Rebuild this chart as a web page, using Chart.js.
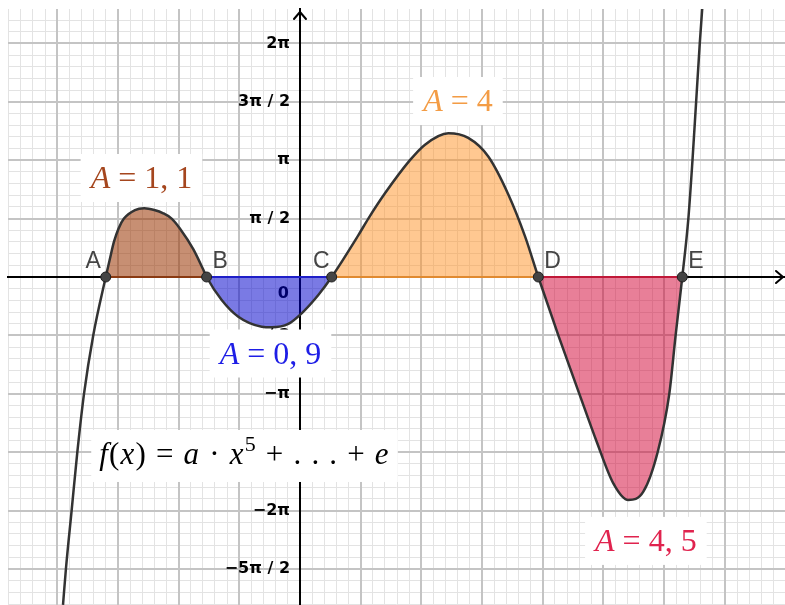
<!DOCTYPE html>
<html>
<head>
<meta charset="utf-8">
<script src="https://cdn.jsdelivr.net/npm/chart.js@4.4.0/dist/chart.umd.min.js"></script>
<style>
  html, body { margin: 0; padding: 0; background: #fff; }
  #graph { display: block; }
</style>
</head>
<body>
<canvas id="graph" width="785" height="605"></canvas>
<script>
// f(x) = a·x^5 + ... + e, sampled along the curve
const curveX = [-1.952, -1.928, -1.881, -1.834, -1.779, -1.703, -1.600, -1.565, -1.532, -1.495,
  -1.450, -1.359, -1.283, -1.200, -1.126, -1.057, -0.988, -0.879, -0.797, -0.769,
  -0.645, -0.508, -0.315, -0.233, -0.096, 0.014, 0.151, 0.261, 0.480, 0.563,
  0.700, 0.906, 1.030, 1.222, 1.386, 1.551, 1.716, 1.853, 1.963, 2.128,
  2.301, 2.444, 2.581, 2.704, 2.828, 2.946, 3.042, 3.094, 3.149, 3.199,
  3.233, 3.263, 3.293, 3.313];
const curveY = [-8.82, -7.854, -6.283, -4.712, -3.142, -1.571, 0, 0.50, 0.95, 1.30,
  1.571, 1.80, 1.848, 1.80, 1.713, 1.571, 1.30, 0.75, 0.20, 0,
  -0.619, -1.068, -1.337, -1.353, -1.264, -0.976, -0.484, 0, 1.12, 1.571,
  2.25, 3.142, 3.56, 3.865, 3.74, 3.24, 2.22, 1.10, 0, -1.571,
  -3.142, -4.43, -5.55, -5.998, -5.775, -4.712, -3.142, -1.571, 0, 1.571,
  3.142, 4.712, 6.283, 7.208];

// zeros of f
const rootNames = ['A', 'B', 'C', 'D', 'E'];
const rootX = [-1.600, -0.769, 0.261, 1.963, 3.149];

// area enclosed between consecutive zeros
const areaValues = ['1,1', '0,9', '4', '4,5'];
const areaFill = ['rgba(153, 51, 0, 0.55)', 'rgba(0, 0, 204, 0.52)', 'rgba(255, 145, 35, 0.5)', 'rgba(210, 0, 50, 0.5)'];
const areaEdge = ['#8a3a12', '#1e1ec8', '#e08a30', '#c01838'];
const areaText = ['#a5461e', '#1e1ee6', '#f39c45', '#e0234e'];

// y axis labelled in steps of π/2
const yTickHalfPi = [-5, -4, -3, -2, -1, 1, 2, 3, 4];
const yTickLabels = ['−5π / 2', '−2π', '−3π / 2', '−π', '−π / 2', 'π / 2', 'π', '3π / 2', '2π'];

const xMin = -2.405, xMax = 3.995;
const yMin = -8.822, yMax = 7.208;

const pts = curveX.map((x, i) => ({ x: x, y: curveY[i] }));
const rootIndex = rootX.map(r => curveX.indexOf(r));

function gridValues(min, max, step) {
    const out = [];
    for (let k = Math.ceil(min / step - 1e-9); k * step <= max + 1e-9; k++) {
        out.push({ value: k * step });
    }
    return out;
}

// axes sit inside the plot, so they must not eat layout space
function noSpace(s) {
    if (s.isHorizontal()) s.height = 0; else s.width = 0;
    s.paddingTop = s.paddingBottom = s.paddingLeft = s.paddingRight = 0;
}

// little LaTeX-ish text: [text, style] with i = italic, r = roman, s = superscript
function tokenFont(style, size) {
    const s = style === 's' ? Math.round(size * 0.7) : size;
    return (style === 'i' ? 'italic ' : '') + s + 'px "Liberation Serif"';
}
function mathWidth(ctx, tokens, size) {
    let w = 0;
    tokens.forEach(([t, st]) => { ctx.font = tokenFont(st, size); w += ctx.measureText(t).width; });
    return w;
}
function drawMath(ctx, tokens, x, y, size, color) {
    ctx.fillStyle = color;
    ctx.textAlign = 'left';
    ctx.textBaseline = 'alphabetic';
    tokens.forEach(([t, st]) => {
        ctx.font = tokenFont(st, size);
        ctx.fillText(t, x, st === 's' ? y - size * 0.42 : y);
        x += ctx.measureText(t).width;
    });
}

const formulaTokens = [['f', 'i'], ['(', 'r'], ['x', 'i'], [')', 'r'], [' = ', 'r'], ['a', 'i'],
    [' · ', 'r'], ['x', 'i'], ['5', 's'], [' + . . . + ', 'r'], ['e', 'i']];

function areaTokens(i) {
    return [['A', 'i'], [' = ' + areaValues[i].replace(',', ', '), 'r']];
}

// label boxes: centre in graph units
const textBoxes = [
    { tokens: areaTokens(0), color: areaText[0], x: -1.306, y: 2.663 },
    { tokens: areaTokens(1), color: areaText[1], x: -0.243, y: -2.058 },
    { tokens: areaTokens(2), color: areaText[2], x: 1.301, y: 4.734 },
    { tokens: areaTokens(3), color: areaText[3], x: 2.849, y: -7.098 },
    { tokens: formulaTokens, color: '#000', x: -0.457, y: -4.814, formula: true }
];

const axisDecor = {
    id: 'axisDecor',
    beforeDatasetsDraw(chart) {
        const { ctx, chartArea, scales } = chart;
        const x0 = scales.x.getPixelForValue(0);
        const y0 = scales.y.getPixelForValue(0);
        ctx.save();
        ctx.strokeStyle = '#000';
        ctx.lineWidth = 2;
        ctx.lineCap = 'round';
        ctx.lineJoin = 'round';
        // arrow heads
        const top = chartArea.top + 3;
        ctx.beginPath();
        ctx.moveTo(x0 - 6, top + 7); ctx.lineTo(x0, top); ctx.lineTo(x0 + 6, top + 7);
        const right = chartArea.right - 2;
        ctx.moveTo(right - 7, y0 - 6); ctx.lineTo(right, y0); ctx.lineTo(right - 7, y0 + 6);
        ctx.stroke();
        // origin label
        ctx.fillStyle = '#000';
        ctx.font = 'bold 16px "DejaVu Sans"';
        ctx.textAlign = 'right';
        ctx.textBaseline = 'middle';
        ctx.fillText('0', x0 - 11, y0 + 17);
        ctx.restore();
    },
    afterDatasetsDraw(chart) {
        const { ctx, scales } = chart;
        ctx.save();
        // point names
        ctx.font = '23px "Liberation Sans"';
        ctx.fillStyle = '#444';
        ctx.textBaseline = 'alphabetic';
        rootNames.forEach((name, i) => {
            const px = scales.x.getPixelForValue(rootX[i]);
            const py = scales.y.getPixelForValue(0);
            const leftSide = name === 'A' || name === 'C';
            ctx.textAlign = leftSide ? 'right' : 'left';
            ctx.fillText(name, leftSide ? px - (name === 'A' ? 5 : 2) : px + 6, py - 9);
        });
        // boxed formulas
        textBoxes.forEach(b => {
            const size = b.formula ? 31 : 32;
            ctx.letterSpacing = b.formula ? '1.2px' : '0px';
            const w = mathWidth(ctx, b.tokens, size);
            const h = b.formula ? 52 : 48;
            const pad = b.formula ? 8 : 10;
            const cx = scales.x.getPixelForValue(b.x);
            const cy = scales.y.getPixelForValue(b.y);
            ctx.fillStyle = '#fff';
            ctx.fillRect(cx - w / 2 - pad, cy - h / 2, w + 2 * pad, h);
            drawMath(ctx, b.tokens, cx - w / 2, cy + (b.formula ? 8 : 10), size, b.color);
        });
        ctx.restore();
    }
};

const datasets = [];
datasets.push({
    data: rootX.map(x => ({ x: x, y: 0 })),
    showLine: false,
    pointRadius: 5,
    pointBackgroundColor: '#444',
    pointBorderColor: '#1f1f1f',
    pointBorderWidth: 1,
    order: 0
});
datasets.push({
    data: pts,
    showLine: true,
    borderColor: '#333',
    borderWidth: 2.5,
    pointRadius: 0,
    cubicInterpolationMode: 'monotone',
    order: 1
});
for (let i = 0; i < rootX.length - 1; i++) {
    datasets.push({
        data: [{ x: rootX[i], y: 0 }, { x: rootX[i + 1], y: 0 }],
        showLine: true,
        borderColor: areaEdge[i],
        borderWidth: 2,
        pointRadius: 0,
        order: 2
    });
    datasets.push({
        data: pts.slice(rootIndex[i], rootIndex[i + 1] + 1),
        showLine: true,
        borderWidth: 0,
        borderColor: 'rgba(0,0,0,0)',
        backgroundColor: areaFill[i],
        fill: 'origin',
        pointRadius: 0,
        cubicInterpolationMode: 'monotone',
        order: 3
    });
}

const noTicks = { display: false };

new Chart(document.getElementById('graph'), {
    type: 'scatter',
    data: { datasets: datasets },
    options: {
        responsive: false,
        animation: false,
        devicePixelRatio: 1,
        layout: { autoPadding: false, padding: { left: 8, top: 9, right: 0, bottom: 0 } },
        plugins: { legend: { display: false }, tooltip: { enabled: false } },
        events: [],
        scales: {
            xMinor: {
                type: 'linear', min: xMin, max: xMax, position: { y: 0 },
                afterBuildTicks: s => { s.ticks = gridValues(xMin, xMax, 0.1); },
                afterFit: noSpace,
                grid: { color: '#e3e3e3', lineWidth: 1, drawTicks: false, z: -2 },
                border: { display: false },
                ticks: noTicks
            },
            yMinor: {
                type: 'linear', min: yMin, max: yMax, position: { x: 0 },
                afterBuildTicks: s => { s.ticks = gridValues(yMin, yMax, Math.PI / 10); },
                afterFit: noSpace,
                grid: { color: '#e3e3e3', lineWidth: 1, drawTicks: false, z: -2 },
                border: { display: false },
                ticks: noTicks
            },
            x: {
                type: 'linear', min: xMin, max: xMax, position: { y: 0 },
                afterBuildTicks: s => { s.ticks = gridValues(xMin, xMax, 0.5); },
                afterFit: noSpace,
                grid: { color: '#c4c4c4', lineWidth: 2, drawTicks: false, z: -1 },
                border: { display: true, color: '#000', width: 2 },
                ticks: noTicks
            },
            y: {
                type: 'linear', min: yMin, max: yMax, position: { x: 0 },
                afterBuildTicks: s => { s.ticks = yTickHalfPi.map(k => ({ value: k * Math.PI / 2 })); },
                afterFit: noSpace,
                grid: { color: '#c4c4c4', lineWidth: 2, drawTicks: false, z: -1 },
                border: { display: true, color: '#000', width: 2 },
                ticks: noTicks
            },
            // tick labels, set a little left of the y axis line
            yLabel: {
                type: 'linear', min: yMin, max: yMax, position: { x: -0.082 },
                afterBuildTicks: s => { s.ticks = yTickHalfPi.map(k => ({ value: k * Math.PI / 2 })); },
                afterFit: noSpace,
                grid: { display: false },
                border: { display: false },
                ticks: {
                    autoSkip: false,
                    color: '#000',
                    font: { family: 'DejaVu Sans', weight: 'bold', size: 16 },
                    callback: (v, i) => yTickLabels[i]
                }
            }
        }
    },
    plugins: [axisDecor]
});
</script>
</body>
</html>
